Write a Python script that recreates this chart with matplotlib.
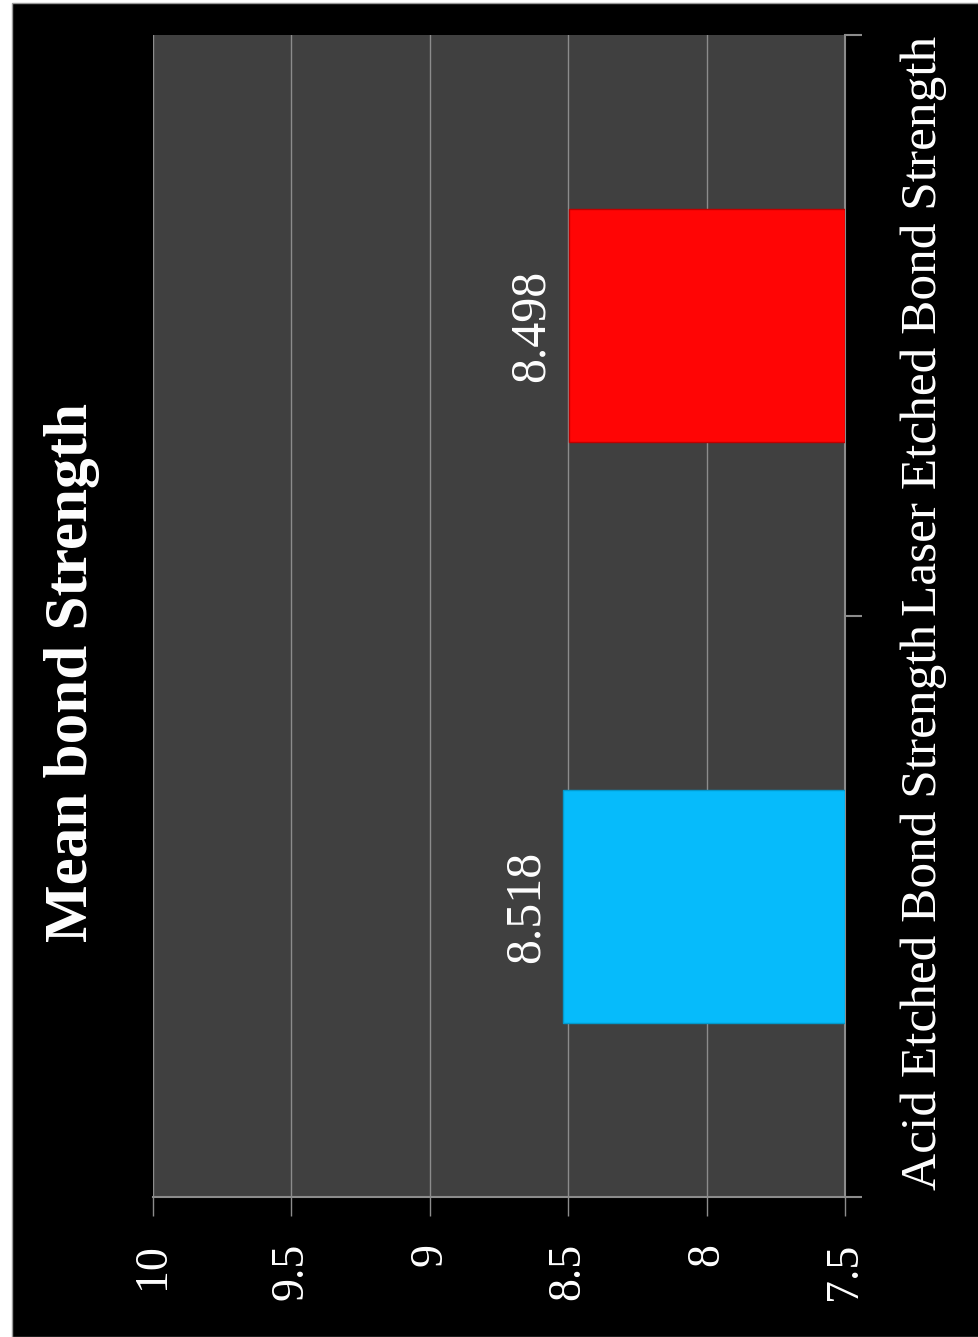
import matplotlib
matplotlib.use("Agg")
import matplotlib.pyplot as plt
from matplotlib.patches import Rectangle

# chart data
categories = ["Acid Etched Bond Strength", "Laser Etched Bond Strength"]
values = [8.518, 8.498]
bar_colors = ["#06BBFB", "#FF0505"]
value_ticks = [7.5, 8, 8.5, 9, 9.5, 10]
value_tick_labels = ["7.5", "8", "8.5", "9", "9.5", "10"]
title = "Mean bond Strength"
axis_min, axis_max = 7.5, 10

plt.rcParams["font.family"] = ["Liberation Serif", "DejaVu Serif"]

W, H = 979, 1337
fig = plt.figure(figsize=(W / 100, H / 100), dpi=100, facecolor="white")

# black slide background with thin grey edge
fig.patches.append(Rectangle((12 / W, 0), 1 - 12 / W, 1 - 3 / H, transform=fig.transFigure,
                             facecolor="black", edgecolor="#9a9a9a", linewidth=1.0, zorder=-10))

ax = fig.add_axes([153 / W, 1 - 1197 / H, (845 - 153) / W, (1197 - 35) / H])
ax.set_facecolor("#404040")

ypos = list(range(len(categories)))
bars = ax.barh(ypos, [v - axis_min for v in values], left=axis_min, height=0.4,
               color=bar_colors, edgecolor=["#0399cc", "#c00000"], linewidth=1.0, zorder=3)

ax.set_xlim(axis_max, axis_min)
ax.set_ylim(-0.5, len(categories) - 0.5)

# value axis (drawn along the bottom, text rotated)
ax.set_xticks(value_ticks)
ax.set_xticklabels(value_tick_labels, rotation=90, fontsize=33, color="white")
ax.tick_params(axis="x", direction="out", length=14, width=1, color="#8c8c8c", pad=19)
ax.grid(axis="x", color="#8c8c8c", linewidth=1.0, zorder=1)
ax.set_axisbelow(True)

# category axis on the right
ax.yaxis.tick_right()
ax.set_yticks([-0.5 + i for i in range(len(categories) + 1)])
ax.set_yticklabels([])
ax.tick_params(axis="y", which="major", direction="out", length=12, width=1.5, color="#8c8c8c")
ax.set_yticks(ypos, minor=True)
ax.set_yticklabels(categories, minor=True, rotation=90, fontsize=37, color="white",
                   va="center", ha="left")
ax.tick_params(axis="y", which="minor", length=0, pad=40, right=True, left=False,
               labelright=True, labelleft=False)

for side in ["top", "left"]:
    ax.spines[side].set_visible(False)
ax.spines["bottom"].set_color("#8c8c8c")
ax.spines["bottom"].set_linewidth(1.5)
ax.spines["right"].set_color("#8c8c8c")
ax.spines["right"].set_linewidth(1.5)

# data labels
for y, v in zip(ypos, values):
    ax.annotate(f"{v:.3f}", xy=(v, y), xytext=(-10, 0), textcoords="offset points",
                rotation=90, ha="right", va="center", fontsize=36, color="white")

fig.text(72 / W, 1 - 672 / H, title, rotation=90, ha="center", va="center",
         fontsize=44, fontweight="bold", color="white")

fig.savefig("out.png", dpi=100, facecolor=fig.get_facecolor())
